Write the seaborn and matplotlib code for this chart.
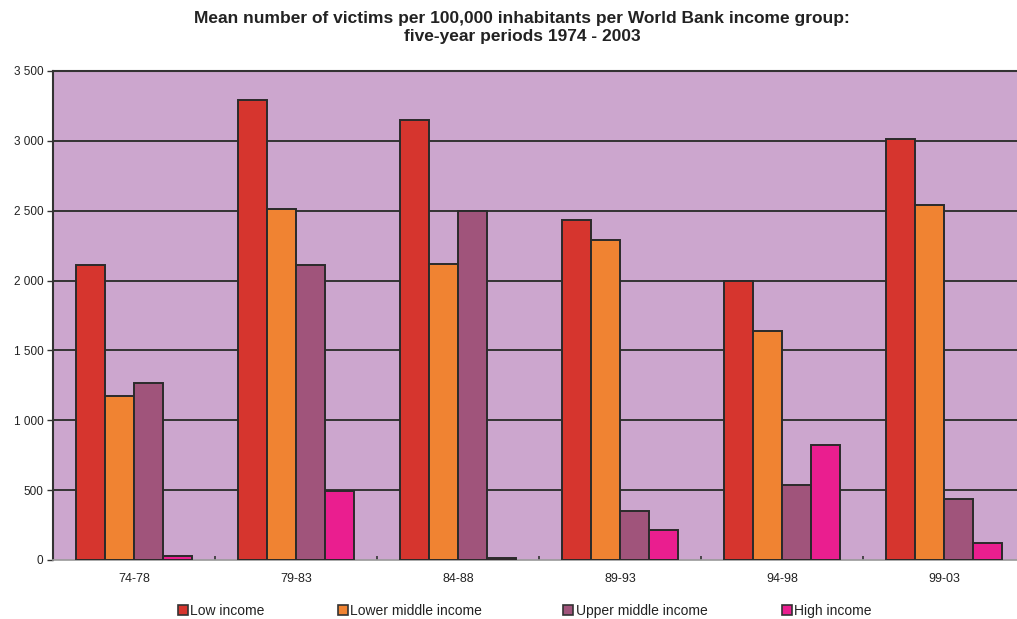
import matplotlib
matplotlib.use("Agg")
import matplotlib.pyplot as plt
import seaborn as sns
import pandas as pd
import numpy as np
from matplotlib.patches import Patch
from matplotlib.ticker import FuncFormatter, FixedLocator

periods = ["74-78", "79-83", "84-88", "89-93", "94-98", "99-03"]
groups = ["Low income", "Lower middle income", "Upper middle income", "High income"]
low_income = [2110, 3290, 3150, 2430, 2000, 3010]
lower_middle = [1175, 2510, 2120, 2290, 1640, 2540]
upper_middle = [1265, 2110, 2500, 350, 540, 435]
high_income = [30, 495, 15, 215, 820, 125]
colors = ["#D6352E", "#F08332", "#A0547B", "#EA1E8F"]

df = pd.DataFrame({
    "period": periods * 4,
    "group": [g for g in groups for _ in periods],
    "value": low_income + lower_middle + upper_middle + high_income,
})

sns.set_theme(style="white")
plt.rcParams["font.family"] = ["Liberation Sans", "DejaVu Sans"]

fig = plt.figure(figsize=(10.17, 6.19), dpi=100)
ax = fig.add_axes([53/1017, 59/619, 972/1017, 489/619])
ax.set_facecolor("#CCA6CE")

sns.barplot(data=df, x="period", y="value", hue="group", hue_order=groups,
            order=periods, palette=colors, saturation=1, width=0.72, ax=ax,
            edgecolor="#2a2a2a", linewidth=1.4, legend=False, zorder=3)

ax.set_ylim(0, 3500)
ax.set_xlim(-0.5, 5.5)
ax.set_yticks(np.arange(0, 3501, 500))
ax.yaxis.set_major_formatter(FuncFormatter(lambda v, p: f"{int(v):,}".replace(",", " ")))
for y in np.arange(500, 3501, 500):
    ax.axhline(y, color="#333333", linewidth=1.4, zorder=1)

ax.set_xlabel("")
ax.set_ylabel("")
ax.tick_params(axis="y", which="major", left=True, length=4, width=1, color="#333333",
               labelsize=8.5, pad=3, direction="out", labelcolor="#222222")
ax.tick_params(axis="x", which="major", bottom=False, labelsize=9, pad=3, labelcolor="#222222")
ax.xaxis.set_minor_locator(FixedLocator(np.arange(0.5, 5.5, 1)))
ax.tick_params(axis="x", which="minor", bottom=True, length=3, width=1.2,
               color="#333333", direction="in")

for side in ["left", "top"]:
    ax.spines[side].set_color("#333333")
    ax.spines[side].set_linewidth(1.5)
ax.spines["bottom"].set_color("#999999")
ax.spines["bottom"].set_linewidth(1.2)
ax.spines["right"].set_visible(False)

fig.text(522/1017, 1 - 28/619,
         "Mean number of victims per 100,000 inhabitants per World Bank income group:\nfive-year periods 1974 - 2003",
         ha="center", va="center", fontsize=12.5, fontweight="bold", color="#222222",
         linespacing=1.25)

legend_x = [178, 338, 563, 782]
for c, g, x in zip(colors, groups, legend_x):
    h = Patch(facecolor=c, edgecolor="#333333", linewidth=1.2)
    fig.legend([h], [g], loc="center left", bbox_to_anchor=(x/1017, 1 - 611/619),
               frameon=False, fontsize=10, handlelength=0.75, handleheight=0.75,
               handletextpad=0.15, borderpad=0, borderaxespad=0, labelcolor="#222222")

fig.savefig("out.png", dpi=100)
